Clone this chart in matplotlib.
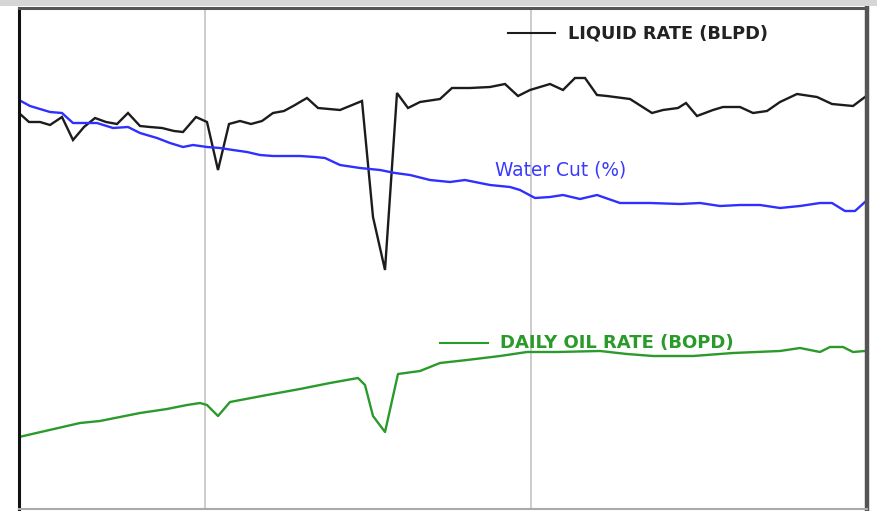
import matplotlib
matplotlib.use("Agg")
import matplotlib.pyplot as plt
from matplotlib.patches import Rectangle

# ---- data (time index, arbitrary rate units; chart has no axis labels) ----
liquid_t = [0, 10, 21, 31, 43, 54, 65, 76, 87, 98, 109, 121, 131, 143, 155, 164, 177, 188,
            199, 210, 221, 232, 243, 254, 265, 276, 281, 288, 299, 321, 343, 354, 366, 378,
            389, 401, 421, 433, 451, 471, 486, 499, 511, 531, 544, 556, 566, 578, 588, 611,
            633, 644, 659, 667, 678, 694, 704, 721, 734, 748, 761, 778, 798, 813, 834, 846]
liquid_rate = [396, 387, 387, 384, 392, 369, 382, 391, 387, 385, 396, 383, 382, 381, 378, 377,
               392, 387, 339, 385, 388, 385, 388, 396, 398, 404, 407, 411, 401, 399, 408, 292,
               239, 416, 401, 407, 410, 421, 421, 422, 425, 413, 419, 425, 419, 431, 431, 414,
               413, 410, 396, 399, 401, 406, 393, 399, 402, 402, 396, 398, 407, 415, 412, 405,
               403, 412]

wcut_t = [0, 11, 21, 31, 43, 54, 64, 78, 94, 109, 121, 138, 151, 164, 174, 188, 201, 214,
          228, 241, 254, 281, 296, 306, 321, 341, 361, 376, 391, 411, 431, 446, 471, 491,
          501, 516, 531, 544, 561, 578, 601, 631, 661, 681, 701, 721, 741, 761, 781, 801,
          813, 826, 836, 846]
water_cut = [409, 403, 400, 397, 396, 386, 386, 386, 381, 382, 376, 371, 366, 362, 364, 362,
             361, 359, 357, 354, 353, 353, 352, 351, 344, 341, 339, 336, 334, 329, 327, 329,
             324, 322, 319, 311, 312, 314, 310, 314, 306, 306, 305, 306, 303, 304, 304, 301,
             303, 306, 306, 298, 298, 307]

oil_t = [0, 61, 81, 101, 121, 148, 168, 181, 188, 199, 211, 248, 281, 311, 339, 346, 354,
         366, 379, 401, 421, 448, 481, 508, 538, 581, 608, 634, 674, 714, 761, 781, 801, 811,
         824, 834, 846]
oil_rate = [72, 86, 88, 92, 96, 100, 104, 106, 104, 93, 107, 114, 120, 126, 131, 124, 93,
            77, 135, 138, 146, 149, 153, 157, 157, 158, 155, 153, 153, 156, 158, 161, 157,
            162, 162, 157, 158]

gridlines_t = [186, 512]

fig = plt.figure(figsize=(8.78, 5.11), dpi=100)
fig.patch.set_facecolor("white")
# grey band at the very top
fig.add_artist(Rectangle((0, 1 - 6 / 511), 1, 6 / 511, transform=fig.transFigure,
                         facecolor="#d6d6d6", edgecolor="none"))

ax = fig.add_axes([19 / 878, 2 / 511, 848 / 878, 501 / 511])
ax.set_xlim(0, 848)
ax.set_ylim(0, 501)
ax.set_xticks([])
ax.set_yticks([])

for g in gridlines_t:
    ax.axvline(g, color="#c8c8c8", lw=1.3, zorder=0)

ax.plot(liquid_t, liquid_rate, color="#1c1c1c", lw=1.7, solid_joinstyle="miter")
ax.plot(wcut_t, water_cut, color="#2f2fff", lw=1.7)
ax.plot(oil_t, oil_rate, color="#2a9a2a", lw=1.7)

# in-plot labels with legend-style line stubs
ax.plot([489, 536], [476, 476], color="#1c1c1c", lw=1.5)
ax.text(549, 476, "LIQUID RATE (BLPD)", color="#222222", fontsize=12.8,
        fontweight="bold", va="center", ha="left", family="DejaVu Sans")
ax.text(476, 339, "Water Cut (%)", color="#3a3aff", fontsize=13.4,
        va="center", ha="left", family="DejaVu Sans")
ax.plot([421, 469], [166, 166], color="#2a9a2a", lw=1.5)
ax.text(481, 166, "DAILY OIL RATE (BOPD)", color="#2a9a2a", fontsize=13.0,
        fontweight="bold", va="center", ha="left", family="DejaVu Sans")

ax.spines["left"].set_color("#111111")
ax.spines["left"].set_linewidth(2.2)
ax.spines["top"].set_color("#555555")
ax.spines["top"].set_linewidth(2.2)
ax.spines["right"].set_color("#555555")
ax.spines["right"].set_linewidth(3.2)
ax.spines["bottom"].set_color("#aaaaaa")
ax.spines["bottom"].set_linewidth(1.5)

fig.savefig("out.png", dpi=100)
